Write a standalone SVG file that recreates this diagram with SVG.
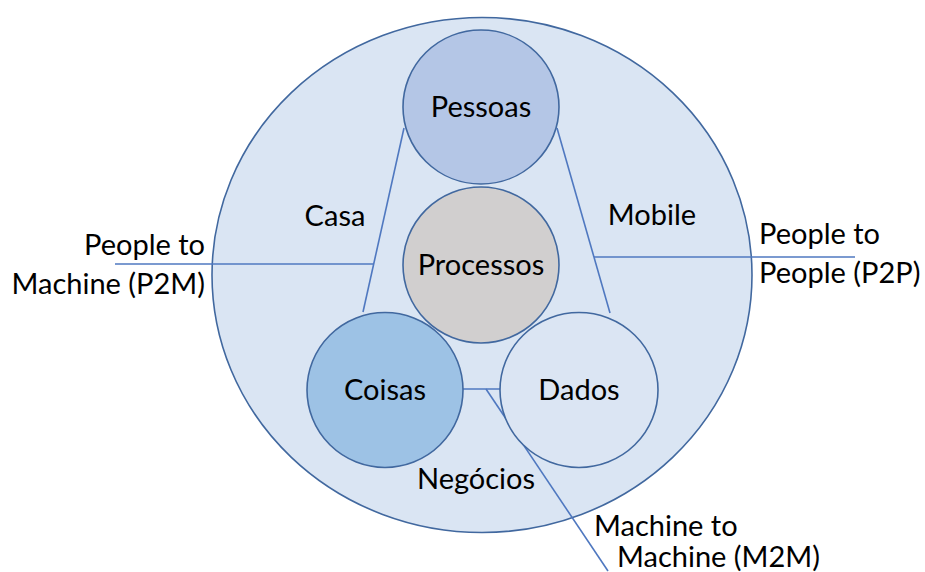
<svg xmlns="http://www.w3.org/2000/svg" width="925" height="572" viewBox="0 0 925 572">
  <style>
    .ring { stroke: #41689f; stroke-width: 1.6; }
    .link { stroke: #4f78c0; stroke-width: 1.6; fill: none; }
    text { font-family: Lato, "Liberation Sans", sans-serif; font-size: 29px; fill: #000; }
    .mid { text-anchor: middle; }
    .end { text-anchor: end; }
  </style>
  <rect width="925" height="572" fill="#ffffff"/>

  <!-- outer domain -->
  <g id="iot-domain">
    <ellipse cx="482" cy="275" rx="270" ry="257.5" fill="#dae5f3" class="ring"/>
  </g>

  <!-- connectors -->
  <g id="connectors">
    <line class="link" x1="404" y1="128" x2="363" y2="312"/>
    <line class="link" x1="557" y1="128" x2="610" y2="313"/>
    <line class="link" x1="115" y1="264" x2="373.5" y2="264"/>
    <line class="link" x1="594" y1="257" x2="855" y2="257"/>
    <line class="link" x1="463" y1="389" x2="500" y2="389"/>
    <line class="link" x1="486" y1="389" x2="608" y2="571"/>
  </g>

  <g id="pessoas">
    <ellipse cx="481" cy="107" rx="78" ry="77" fill="#b4c6e6" class="ring"/>
    <text class="mid" x="481" y="117">Pessoas</text>
  </g>
  <g id="processos">
    <ellipse cx="481" cy="265" rx="78" ry="78" fill="#d1cfcf" class="ring"/>
    <text class="mid" x="481" y="275">Processos</text>
  </g>
  <g id="coisas">
    <ellipse cx="385" cy="390" rx="78" ry="77.5" fill="#9dc2e5" class="ring"/>
    <text class="mid" x="385" y="400">Coisas</text>
  </g>
  <g id="dados">
    <ellipse cx="579" cy="390" rx="79" ry="77.5" fill="#dbe5f3" class="ring"/>
    <text class="mid" x="579" y="400">Dados</text>
  </g>

  <!-- region labels -->
  <text class="mid" x="335" y="226">Casa</text>
  <text class="mid" x="652" y="225">Mobile</text>
  <text class="mid" x="476" y="489">Negócios</text>

  <!-- interaction labels -->
  <text class="end" x="205" y="255">People to</text>
  <text class="end" x="205" y="294">Machine (P2M)</text>
  <text x="759" y="244">People to</text>
  <text x="759" y="283">People (P2P)</text>
  <text x="594" y="536">Machine to</text>
  <text x="617" y="567">Machine (M2M)</text>
</svg>
